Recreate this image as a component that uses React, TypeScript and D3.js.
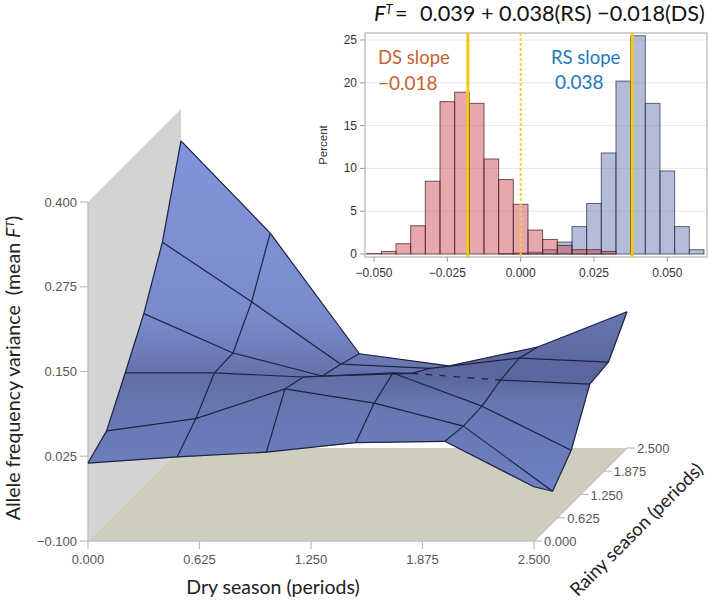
import React from "react";
import * as d3 from "d3";

// Surface: z[rainyIndex][dryIndex]
const gridSteps = [0, 0.5, 1, 1.5, 2, 2.5];
const zRainy0 = [0.015, 0.024, 0.031, 0.045, 0.047, -0.020];
const zRainy05 = [0.035, 0.053, 0.097, 0.076, 0.042, -0.054];
const zRainy10 = [0.093, 0.093, 0.087, 0.093, 0.044, -0.021];
const zRainy15 = [0.153, 0.095, 0.061, 0.065, 0.055, 0.049];
const zRainy20 = [0.231, 0.143, 0.051, 0.045, 0.060, 0.054];
const zRainy25 = [0.353, 0.217, 0.039, 0.021, 0.049, 0.101];
const surface = [zRainy0, zRainy05, zRainy10, zRainy15, zRainy20, zRainy25];

const seasonTicks = [0, 0.625, 1.25, 1.875, 2.5];
const zTicks = [-0.1, 0.025, 0.15, 0.275, 0.4];

// Histogram bins: centre, percent
const dsCentres = [-0.05, -0.045, -0.04, -0.035, -0.03, -0.025, -0.02, -0.015, -0.01, -0.005, 0, 0.005, 0.01, 0.015, 0.02, 0.025, 0.03];
const dsPercent = [0.05, 0.3, 1.2, 3.3, 8.5, 17.8, 18.9, 17.6, 11.1, 8.7, 5.8, 2.8, 1.7, 1.0, 0.5, 0.5, 0.3];
const rsCentres = [-0.005, 0, 0.005, 0.01, 0.015, 0.02, 0.025, 0.03, 0.035, 0.04, 0.045, 0.05, 0.055, 0.06];
const rsPercent = [0.05, 0.1, 0.2, 0.5, 1.4, 3.2, 5.9, 11.8, 20.2, 25.5, 17.6, 9.7, 3.2, 0.5];
const histXTicks = [-0.05, -0.025, 0, 0.025, 0.05];
const histYTicks = [0, 5, 10, 15, 20, 25];
const dsSlope = -0.018;
const rsSlope = 0.038;
const binWidth = 0.005;

const dryX = d3.scaleLinear().domain([0, 2.5]).range([88, 534]);
const rainyDx = d3.scaleLinear().domain([0, 2.5]).range([0, 93]);
const zY = d3.scaleLinear().domain([-0.1, 0.4]).range([541, 202]);
const px = (dry: number, rainy: number) => dryX(dry) + rainyDx(rainy);
const py = (rainy: number, z: number) => zY(z) - rainyDx(rainy);

const hx = d3.scaleLinear().domain([-0.05, 0.05]).range([374, 667.3]);
const hy = d3.scaleLinear().domain([0, 25]).range([254, 40]);
const frame = { l: 365, r: 707, t: 33, b: 257 };

const sans = "'Liberation Sans', Arial, sans-serif";
const lato = "Lato, 'Open Sans', sans-serif";
const fmt = d3.format(".3f");
const minus = (s: string) => s.replace("-", "\u2212");

const node = (i: number, j: number): [number, number] => [
  px(gridSteps[i], gridSteps[j]),
  py(gridSteps[j], surface[j][i]),
];
const line = d3.line<[number, number]>();

export default function App() {
  const cells: { d: string; key: string; shaded: boolean }[] = [];
  for (let j = gridSteps.length - 2; j >= 0; j--) {
    for (let i = 0; i < gridSteps.length - 1; i++) {
      cells.push({
        key: `${i}-${j}`,
        shaded: i >= 3,
        d: line([node(i, j), node(i + 1, j), node(i + 1, j + 1), node(i, j + 1)])! + "Z",
      });
    }
  }
  const segs: { d: string; key: string; dashed: boolean }[] = [];
  gridSteps.forEach((_, j) => {
    for (let i = 0; i < gridSteps.length - 1; i++) {
      segs.push({ key: `r${i}-${j}`, d: line([node(i, j), node(i + 1, j)])!, dashed: j === 3 && i === 3 });
    }
  });
  gridSteps.forEach((_, i) => {
    for (let j = 0; j < gridSteps.length - 1; j++) {
      if (i === 3 && j === 4) continue;
      segs.push({ key: `c${i}-${j}`, d: line([node(i, j), node(i, j + 1)])!, dashed: false });
    }
  });

  const x0 = dryX(0), x1 = dryX(2.5);
  const r = rainyDx(2.5);
  const yb = zY(-0.1), yt = zY(0.4);

  return (
    <svg width={709} height={605} style={{ position: "absolute", left: 0, top: 0, background: "#fff" }}>
      <defs>
        <linearGradient id="surf" gradientUnits="userSpaceOnUse" x1={0} x2={0} y1={140} y2={490}>
          <stop offset="0" stopColor="#8294da" />
          <stop offset="0.49" stopColor="#7b8ccd" />
          <stop offset="0.6" stopColor="#6f7dbb" />
          <stop offset="0.68" stopColor="#626fa5" />
          <stop offset="0.77" stopColor="#6877b2" />
          <stop offset="1" stopColor="#6e80c4" />
        </linearGradient>
        <linearGradient id="shade" gradientUnits="userSpaceOnUse" x1={0} x2={0} y1={398} y2={365}>
          <stop offset="0" stopColor="#3a4470" stopOpacity={0} />
          <stop offset="1" stopColor="#3a4470" stopOpacity={0.3} />
        </linearGradient>
      </defs>

      {/* wall and floor */}
      <path d={line([[x0, yt], [x0 + r, yt - r], [x0 + r, yb - r], [x0, yb]])! + "Z"} fill="#d3d3d3" />
      <path d={line([[x0, yb], [x1, yb], [x1 + r, yb - r], [x0 + r, yb - r]])! + "Z"} fill="#cfcdbd" />
      <path d={`M${x0},${yt}V${yb}H${x1}L${x1 + r},${yb - r}`} fill="none" stroke="#c4c4c4" strokeWidth={1.5} />

      {zTicks.map((t) => (
        <g key={t}>
          <line x1={x0 - 8} x2={x0} y1={zY(t)} y2={zY(t)} stroke="#bdbdbd" strokeWidth={1.2} />
          <text x={77} y={zY(t) + 4.5} textAnchor="end" fontFamily={sans} fontSize={13} fill="#555">{minus(fmt(t))}</text>
        </g>
      ))}
      {seasonTicks.map((t) => (
        <g key={t}>
          <line x1={dryX(t)} x2={dryX(t)} y1={yb} y2={yb + 8} stroke="#bdbdbd" strokeWidth={1.2} />
          <text x={dryX(t)} y={564} textAnchor="middle" fontFamily={sans} fontSize={13} fill="#555">{fmt(t)}</text>
          <line x1={x1 + rainyDx(t)} x2={x1 + rainyDx(t) + 8} y1={yb - rainyDx(t)} y2={yb - rainyDx(t)} stroke="#bdbdbd" strokeWidth={1.2} />
          <text x={x1 + rainyDx(t) + 10} y={yb - rainyDx(t) + 5} fontFamily={sans} fontSize={13} fill="#555">{fmt(t)}</text>
        </g>
      ))}

      {/* surface */}
      {cells.map((c) => (
        <g key={c.key}>
          <path d={c.d} fill="url(#surf)" stroke="url(#surf)" strokeWidth={0.5} />
          {c.shaded && <path d={c.d} fill="url(#shade)" />}
        </g>
      ))}
      {segs.map((s) => (
        <path key={s.key} d={s.d} fill="none" stroke="#1c2340" strokeWidth={1.2} strokeDasharray={s.dashed ? "7 7" : undefined} />
      ))}

      {/* axis titles */}
      <text transform="translate(20,368) rotate(-90)" textAnchor="middle" fontFamily={lato} fontSize={19.6} fill="#222">
        Allele frequency variance{"\u00A0\u00A0"}(mean <tspan fontStyle="italic">F</tspan><tspan fontStyle="italic" fontSize={12} dy={-6}>T</tspan><tspan dy={6}>)</tspan>
      </text>
      <text x={273} y={594} textAnchor="middle" fontFamily={lato} fontSize={19.5} fill="#222">Dry season (periods)</text>
      <text transform="translate(641,534) rotate(-45)" textAnchor="middle" fontFamily={lato} fontSize={18.5} fill="#222">Rainy season (periods)</text>

      {/* inset histogram */}
      {histYTicks.filter((t) => t > 0).map((t) => (
        <line key={t} x1={frame.l} x2={frame.r} y1={hy(t)} y2={hy(t)} stroke="#e8e8e8" strokeWidth={1} />
      ))}
      {rsCentres.map((c, k) => (
        <rect key={c} x={hx(c - binWidth / 2)} width={hx(binWidth) - hx(0)} y={hy(rsPercent[k])} height={hy(0) - hy(rsPercent[k])}
          fill="#5f72ac" fillOpacity={0.47} stroke="#2f3350" strokeOpacity={0.75} strokeWidth={1} />
      ))}
      {dsCentres.map((c, k) => (
        <rect key={c} x={hx(c - binWidth / 2)} width={hx(binWidth) - hx(0)} y={hy(dsPercent[k])} height={hy(0) - hy(dsPercent[k])}
          fill="#c9474f" fillOpacity={0.47} stroke="#4a2228" strokeOpacity={0.75} strokeWidth={1} />
      ))}
      <path d={`M${frame.l},${frame.t}H${frame.r}V${frame.b}H${frame.l}Z`} fill="none" stroke="#c2c2c2" strokeWidth={1.5} />
      {histYTicks.map((t) => (
        <g key={t}>
          <line x1={frame.l - 5} x2={frame.l} y1={hy(t)} y2={hy(t)} stroke="#999" />
          <text x={frame.l - 8} y={hy(t) + 4} textAnchor="end" fontFamily={sans} fontSize={12} fill="#333">{t}</text>
        </g>
      ))}
      {histXTicks.map((t) => (
        <g key={t}>
          <line x1={hx(t)} x2={hx(t)} y1={frame.b} y2={frame.b + 5} stroke="#999" />
          <text x={hx(t)} y={frame.b + 20} textAnchor="middle" fontFamily={sans} fontSize={12} fill="#333">{minus(fmt(t))}</text>
        </g>
      ))}
      <text transform="translate(327,145) rotate(-90)" textAnchor="middle" fontFamily={sans} fontSize={11.5} fill="#333">Percent</text>

      <line x1={hx(dsSlope)} x2={hx(dsSlope)} y1={frame.t} y2={frame.b} stroke="#f4c80f" strokeWidth={3} />
      <line x1={hx(rsSlope)} x2={hx(rsSlope)} y1={frame.t} y2={frame.b} stroke="#f4c80f" strokeWidth={3} />
      <line x1={hx(0)} x2={hx(0)} y1={frame.t} y2={frame.b} stroke="#f8cf30" strokeWidth={2} strokeDasharray="3 2" />

      <text x={378} y={64} fontFamily={lato} fontSize={18.5} fill="#c5622f">DS slope</text>
      <text x={378} y={90} fontFamily={lato} fontSize={19} fill="#c5622f">{"\u2212"}0.018</text>
      <text x={551} y={64} fontFamily={lato} fontSize={18.5} fill="#2278bd">RS slope</text>
      <text x={555} y={89} fontFamily={lato} fontSize={19} fill="#2278bd">0.038</text>

      <text y={21} fontFamily={lato} fontSize={21.7} fill="#111">
        <tspan x={374} fontStyle="italic">F</tspan><tspan fontStyle="italic" fontSize={13} dy={-7}>T</tspan><tspan x={395} dy={7}>=</tspan>
        <tspan x={420}>0.039 + 0.038(RS) {"\u2212"}0.018(DS)</tspan>
      </text>
    </svg>
  );
}
